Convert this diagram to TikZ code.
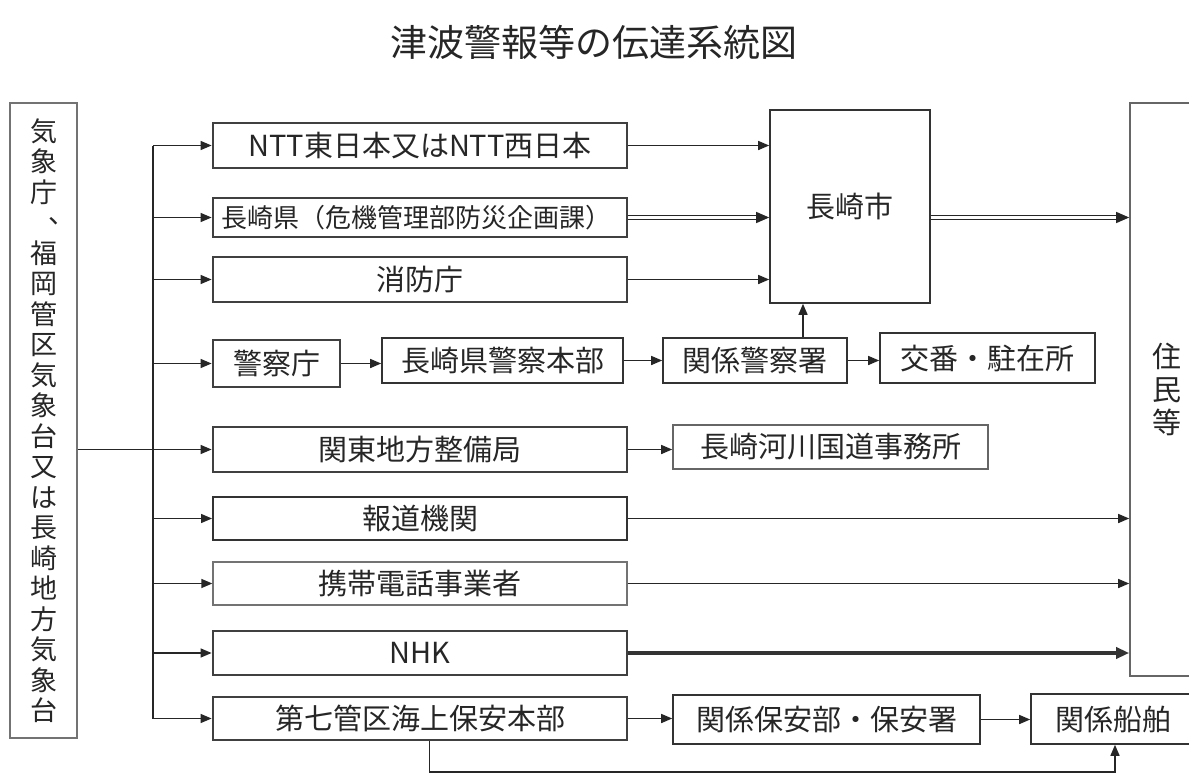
\documentclass[tikz,border=0pt]{standalone}
\usepackage{fontspec}
\setmainfont{Noto Sans CJK JP}
\usetikzlibrary{arrows.meta}
\tikzset{
  box/.style={draw=black!80, line width=1.6pt, fill=white, inner sep=0pt, text=black!85,
    font=\fontsize{29}{34}\selectfont},
  heavy/.style={box, line width=2.8pt, draw=black!75},
  light/.style={box, line width=1.3pt, draw=black!55},
  arr/.style={line width=1.4pt, draw=black!85, -{Triangle[length=11pt,width=9pt]}},
  dbl/.style={line width=1.1pt, draw=black!85, double=white, double distance=2.2pt, -{Triangle[length=13pt,width=11pt]}},
  fat/.style={line width=3.4pt, draw=black!80, -{Triangle[length=13pt,width=11pt]}},
  plain/.style={line width=1.4pt, draw=black!85},
}
\begin{document}
\begin{tikzpicture}[x=1pt,y=-1pt]
\useasboundingbox (0,0) rectangle (1189,776);
\clip (0,0) rectangle (1189,776);
\fill[white] (0,0) rectangle (1189,776);

\node[text=black!85, font=\fontsize{37}{42}\selectfont] (title) at (594,42) {津波警報等の伝達系統図};

% source box
\node[box, draw=black!55, minimum width=67pt, minimum height=635pt, align=center,
  font=\fontsize{27}{30.5}\selectfont] (src) at (43.5,420.5)
  {気\\象\\庁\\\phantom{気}\\福\\岡\\管\\区\\気\\象\\台\\又\\は\\長\\崎\\地\\方\\気\\象\\台};
\node[inner sep=0pt, text=black!85, font=\fontsize{27}{30.5}\selectfont] (comma) at (62,221) {、};

% column 1
\node[heavy, minimum width=414pt, minimum height=45pt] (ntt) at (420,145.5) {NTT東日本又はNTT西日本};
\node[heavy, minimum width=414pt, minimum height=39pt, font=\fontsize{26}{30}\selectfont] (ken) at (420,217.5) {\hspace*{-8pt}長崎県（危機管理部防災企画課）};
\node[heavy, minimum width=414pt, minimum height=45pt] (fire) at (420,279.5) {消防庁};
\node[heavy, minimum width=127pt, minimum height=47pt] (police) at (276.5,363.5) {警察庁};
\node[heavy, minimum width=414pt, minimum height=45pt] (kanto) at (420,449.5) {関東地方整備局};
\node[box, line width=2pt, minimum width=414pt, minimum height=43pt] (hodo) at (420,518.5) {報道機関};
\node[light, minimum width=414pt, minimum height=43pt] (keitai) at (420,583.5) {携帯電話事業者};
\node[heavy, minimum width=414pt, minimum height=44pt] (nhk) at (420,653) {NHK};
\node[heavy, minimum width=414pt, minimum height=43pt] (dai7) at (420,718.5) {第七管区海上保安本部};

% column 2+
\node[box, minimum width=241pt, minimum height=45pt] (kenkei) at (502.5,360.5) {長崎県警察本部};
\node[box, minimum width=184pt, minimum height=45pt] (kankei) at (755,360.5) {関係警察署};
\node[box, minimum width=215pt, minimum height=50pt] (koban) at (987.5,358) {交番・駐在所};
\node[box, draw=black!60, minimum width=315pt, minimum height=44pt] (kasen) at (830.5,447) {長崎河川国道事務所};
\node[box, minimum width=307pt, minimum height=49pt] (hoan) at (826.5,719.5) {関係保安部・保安署};
\node[box, minimum width=164pt, minimum height=50pt] (senpaku) at (1113,719) {関係船舶};
\node[box, minimum width=160pt, minimum height=193pt] (shi) at (850,206.5) {長崎市};
\node[box, draw=black!60, minimum width=74pt, minimum height=573pt, align=center,
  font=\fontsize{29}{33}\selectfont] (jumin) at (1167,389.5) {住\\民\\等};

% bus
\coordinate (bt) at (153,145.5);
\coordinate (bb) at (153,718.5);
\draw[plain] (bt) -- (bb);
\foreach \n in {ntt,ken,fire,police,hodo,keitai,nhk,dai7}
  \draw[arr] (bt |- \n.west) -- (\n.west);
\draw[arr] (src.east |- kanto.west) -- (kanto.west);

% to Nagasaki city
\draw[arr] (ntt.east) -- (ntt.east -| shi.west);
\draw[dbl] (ken.east) -- (ken.east -| shi.west);
\draw[arr] (fire.east) -- (fire.east -| shi.west);
\draw[dbl] (shi.east |- ken.east) -- (ken.east -| jumin.west);

% police chain
\draw[arr] (police.east) -- (police.east -| kenkei.west);
\draw[arr] (kenkei.east) -- (kenkei.east -| kankei.west);
\draw[arr] (kankei.east) -- (kankei.east -| koban.west);
\draw[arr] ([xshift=48pt]kankei.north) -- ([xshift=48pt]kankei.north |- shi.south);

\draw[arr] (kanto.east) -- (kanto.east -| kasen.west);

% to residents
\draw[arr] (hodo.east) -- (hodo.east -| jumin.west);
\draw[arr] (keitai.east) -- (keitai.east -| jumin.west);
\draw[fat] (nhk.east) -- (nhk.east -| jumin.west);

% coast guard
\draw[arr] (dai7.east) -- (dai7.east -| hoan.west);
\draw[arr] (hoan.east) -- (hoan.east -| senpaku.west);
\draw[arr] ([xshift=-199pt]dai7.south east) |- (1115,772) -- (1115,772 |- senpaku.south);
\end{tikzpicture}
\end{document}
